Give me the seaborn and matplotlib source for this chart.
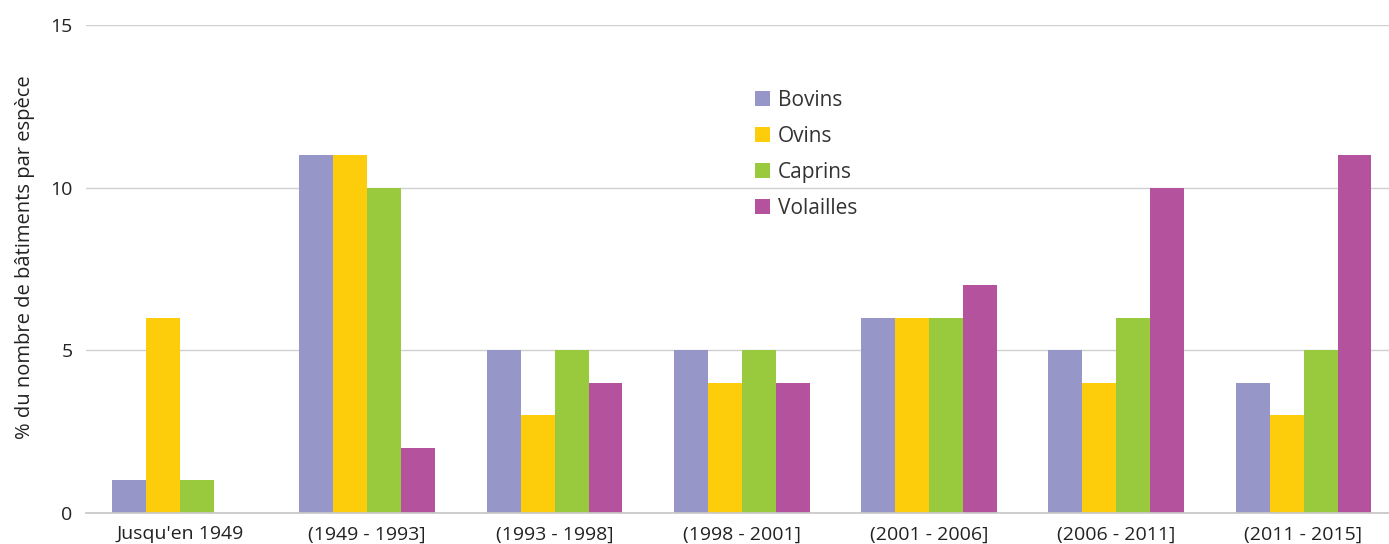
import matplotlib
matplotlib.use("Agg")
import matplotlib.pyplot as plt
import seaborn as sns
import pandas as pd
import numpy as np

categories = ["Jusqu'en 1949", "(1949 - 1993]", "(1993 - 1998]", "(1998 - 2001]",
              "(2001 - 2006]", "(2006 - 2011]", "(2011 - 2015]"]
bovins = [1, 11, 5, 5, 6, 5, 4]
ovins = [6, 11, 3, 4, 6, 4, 3]
caprins = [1, 10, 5, 5, 6, 6, 5]
volailles = [np.nan, 2, 4, 4, 7, 10, 11]
series = ["Bovins", "Ovins", "Caprins", "Volailles"]
colors = ["#9696C8", "#FDCC0A", "#99C93D", "#B5529E"]

rows = []
for name, vals in zip(series, [bovins, ovins, caprins, volailles]):
    for c, v in zip(categories, vals):
        rows.append({"cat": c, "serie": name, "val": v})
df = pd.DataFrame(rows)

sns.set_theme(style="white")
plt.rcParams['font.family'] = ['Open Sans', 'DejaVu Sans']

fig = plt.figure(figsize=(13.89, 5.44), dpi=100)
ax = fig.add_axes([86.4 / 1389, 0.057, 1310.75 / 1389, 0.897])
sns.barplot(data=df, x="cat", y="val", hue="serie", order=categories, hue_order=series,
            palette=colors, width=0.726, gap=0, saturation=1, ax=ax, linewidth=0, errorbar=None)

ax.set_ylim(0, 15)
ax.set_xlim(-0.5, 6.5)
ax.set_yticks([0, 5, 10, 15])
ax.yaxis.grid(True, color="#D0D0D0", linewidth=1)
ax.set_axisbelow(True)
for s in ["top", "right", "left"]:
    ax.spines[s].set_visible(False)
ax.spines["bottom"].set_color("#C8C8C8")
ax.tick_params(axis="both", length=0, labelsize=14, colors="#222222")
ax.tick_params(axis="x", pad=9)
ax.tick_params(axis="y", pad=10)
ax.set_xlabel("")
ax.set_ylabel("% du nombre de bâtiments par espèce", fontsize=14.5, color="#222222")
ax.yaxis.set_label_coords(-0.039, 0.5236)

leg = ax.legend(loc="upper left", bbox_to_anchor=(0.4955, 0.905), frameon=False, fontsize=15,
                handlelength=0.75, handleheight=0.75, handletextpad=0.35, labelspacing=0.72)
for t in leg.get_texts():
    t.set_color("#333333")

fig.savefig("out.png", dpi=100)
